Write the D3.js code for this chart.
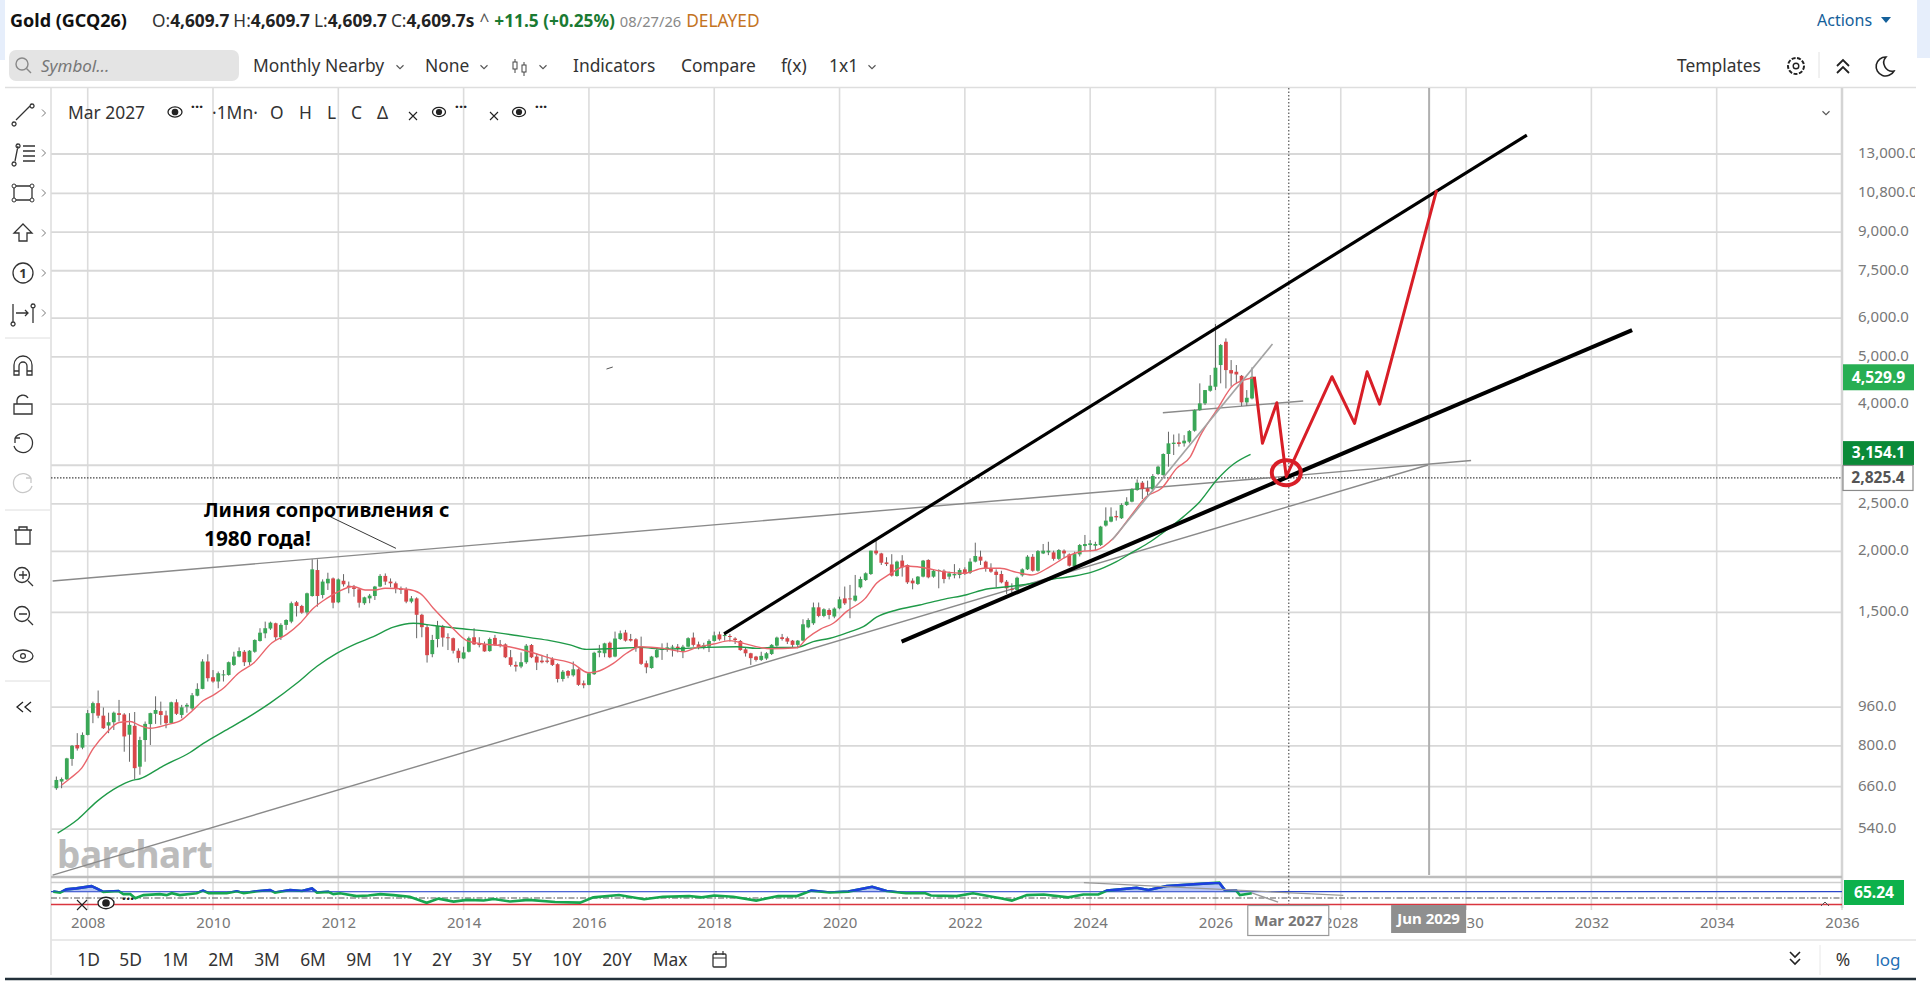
<!DOCTYPE html>
<html lang="en">
<head>
<meta charset="UTF-8">
<title>Gold (GCQ26)</title>
<script src="https://d3js.org/d3.v7.min.js"></script>
<style>
    html,body{margin:0;padding:0;background:#fff;overflow:hidden;}
    svg text{font-family:"Noto Sans","Open Sans",sans-serif;}
    .tb{font-size:17.4px;fill:#333;}
    .ax text{font-size:15px;fill:#777;}
</style>
</head>
<body>
<div id="chart"></div>
<script>
// monthly candles, first one is Jul 2007, last one Aug 2026
var firstCandleYear=2007.5;
var candleOpen=[
655,676,683,752,803,793,842,933,978,922,
880,894,933,927,843,879,725,822,886,930,
942,923,890,982,925,962,954,1013,1046,1190,
1105,1083,1117,1117,1171,1218,1246,1186,1246,1311,
1359,1390,1425,1334,1414,1436,1573,1546,1500,1620,
1831,1628,1720,1760,1573,1741,1701,1688,1672,1566,
1602,1620,1694,1781,1734,1720,1678,1672,1578,1602,
1483,1399,1232,1323,1407,1334,1328,1252,1207,1246,
1334,1296,1292,1250,1330,1290,1290,1214,1171,1162,
1186,1286,1218,1195,1195,1203,1175,1096,1138,1115,
1147,1074,1066,1121,1240,1237,1300,1218,1323,1364,
1323,1321,1276,1180,1154,1214,1256,1260,1270,1276,
1246,1276,1332,1290,1272,1276,1311,1352,1342,1342,
1326,1311,1260,1237,1218,1199,1207,1233,1282,1334,
1328,1313,1287,1313,1398,1425,1536,1475,1517,1471,
1529,1602,1602,1585,1688,1747,1797,2006,1980,1898,
1880,1780,1914,1875,1742,1715,1775,1920,1775,1822,
1825,1775,1786,1789,1837,1808,1905,1950,1905,1846,
1817,1797,1733,1675,1667,1786,1837,1949,1825,1980,
1990,1990,1930,2006,1971,1866,1971,2050,2060,2053,
2060,2258,2300,2362,2337,2488,2527,2669,2763,2691,
2678,2878,2864,3163,3316,3342,3326,3352,3530,3890,
4015,4261,4343,4810,5368,4697,4660,4572,4034,4110];
var candleHigh=[
692,689,756,803,849,852,947,985,1038,958,
935,940,993,933,933,938,835,897,935,1010,
985,944,985,996,970,978,1026,1074,1203,1231,
1143,1135,1143,1190,1246,1272,1256,1256,1321,1392,
1436,1436,1429,1425,1452,1578,1583,1554,1646,1926,
1926,1752,1808,1768,1760,1796,1734,1707,1680,1615,
1636,1699,1796,1802,1760,1734,1694,1688,1620,1610,
1490,1414,1349,1441,1414,1359,1332,1266,1276,1338,
1392,1334,1307,1332,1349,1317,1296,1256,1190,1242,
1292,1292,1236,1227,1233,1214,1180,1143,1143,1190,
1152,1088,1129,1246,1287,1300,1307,1370,1377,1381,
1355,1328,1338,1195,1222,1272,1296,1300,1287,1292,
1287,1334,1364,1307,1300,1321,1370,1370,1364,1355,
1334,1317,1272,1240,1222,1246,1244,1292,1338,1355,
1338,1317,1317,1452,1459,1571,1571,1529,1529,1536,
1615,1694,1707,1789,1775,1811,2006,2102,1986,1945,
1973,1914,1964,1880,1761,1780,1920,1926,1837,1837,
1837,1817,1883,1846,1855,1935,2083,2006,1914,1890,
1837,1825,1747,1720,1775,1846,1964,1974,2012,2070,
2092,2006,2021,2018,1980,1996,2070,2160,2109,2092,
2255,2460,2460,2422,2507,2580,2691,2807,2785,2790,
2878,2994,3173,3513,3467,3484,3457,3541,3902,4412,
4275,4589,5835,5310,5453,4924,4810,4589,4275,4757];
var candleLow=[
650,655,681,728,782,787,840,890,911,866,
849,862,897,778,742,683,698,742,803,887,
883,869,887,925,911,935,947,1010,1044,1083,
1077,1049,1083,1113,1165,1214,1165,1171,1240,1307,
1328,1381,1313,1317,1381,1425,1471,1490,1483,1615,
1541,1602,1667,1529,1566,1694,1641,1615,1534,1554,
1566,1590,1688,1707,1688,1641,1636,1566,1566,1328,
1334,1184,1214,1272,1276,1256,1236,1184,1203,1242,
1286,1272,1246,1246,1280,1272,1209,1162,1135,1153,
1177,1209,1143,1180,1180,1165,1078,1083,1100,1108,
1061,1049,1064,1117,1214,1214,1209,1214,1317,1307,
1307,1246,1171,1126,1150,1209,1199,1246,1218,1242,
1209,1272,1276,1260,1260,1244,1307,1313,1313,1307,
1292,1252,1218,1171,1190,1193,1199,1227,1276,1313,
1292,1272,1266,1309,1392,1414,1466,1466,1452,1459,
1522,1553,1459,1578,1680,1739,1789,1964,1875,1866,
1775,1775,1775,1715,1672,1707,1769,1761,1766,1680,
1720,1752,1761,1761,1789,1797,1898,1875,1817,1808,
1688,1720,1636,1636,1662,1775,1831,1817,1817,1974,
1964,1914,1920,1936,1861,1861,1952,2006,1996,2012,
2050,2247,2293,2311,2329,2476,2519,2660,2559,2607,
2649,2864,2855,2980,3148,3275,3275,3326,3513,3878,
3984,4242,4275,4412,4309,4343,4412,3965,3971,4091];
var candleClose=[
681,684,754,800,790,842,933,978,922,869,
894,935,925,836,883,720,822,887,933,947,
925,890,982,930,959,970,1015,1046,1190,1100,
1083,1126,1120,1186,1218,1250,1186,1252,1317,1363,
1392,1429,1334,1414,1447,1566,1546,1498,1641,1837,
1620,1734,1757,1570,1752,1712,1688,1675,1570,1610,
1623,1694,1781,1734,1720,1680,1667,1578,1602,1483,
1399,1226,1317,1407,1332,1328,1252,1209,1242,1328,
1290,1286,1248,1323,1286,1282,1214,1171,1162,1186,
1282,1214,1184,1186,1188,1171,1096,1134,1113,1147,
1066,1064,1126,1240,1252,1296,1214,1326,1359,1313,
1313,1272,1177,1158,1218,1256,1266,1272,1276,1266,
1276,1328,1287,1272,1285,1311,1346,1321,1348,1336,
1317,1256,1237,1209,1199,1222,1237,1287,1332,1323,
1307,1287,1313,1418,1447,1536,1475,1522,1482,1527,
1595,1565,1597,1623,1755,1803,2006,1980,1895,1883,
1783,1905,1855,1728,1720,1775,1914,1769,1825,1831,
1755,1803,1797,1831,1797,1905,1956,1914,1846,1817,
1789,1728,1680,1667,1766,1837,1950,1825,2002,2006,
2006,1930,2012,1980,1869,1974,2060,2070,2076,2070,
2247,2311,2355,2347,2488,2527,2682,2763,2682,2649,
2851,2980,3163,3326,3337,3316,3368,3524,3890,4015,
4275,4363,4750,5285,4697,4623,4601,4034,4123,4552];

// moving averages [year, price]
var maFast=[[2007.585,665],[2007.718,686],[2007.904,720],[2008.09,790],[2008.303,852],[2008.5,893],[2008.676,897],[2008.835,880],[2008.995,869],[2009.26,883],[2009.5,904],[2009.67,944],[2009.846,990],[2010.006,1016],[2010.165,1049],[2010.405,1126],[2010.644,1180],[2010.937,1298],[2011.176,1352],[2011.389,1425],[2011.602,1529],[2011.815,1602],[2012.0,1654],[2012.24,1694],[2012.427,1667],[2012.586,1667],[2012.746,1680],[2013.09,1672],[2013.305,1641],[2013.517,1529],[2013.81,1399],[2014.05,1313],[2014.316,1292],[2014.66,1280],[2014.95,1256],[2015.22,1227],[2015.38,1209],[2015.75,1177],[2015.99,1129],[2016.12,1134],[2016.39,1180],[2016.6,1237],[2016.82,1276],[2017.19,1266],[2017.51,1246],[2017.72,1272],[2017.99,1292],[2018.25,1313],[2018.47,1296],[2018.73,1272],[2018.89,1264],[2019.32,1270],[2019.48,1328],[2019.69,1385],[2019.9,1425],[2020.11,1505],[2020.41,1602],[2020.59,1720],[2020.78,1789],[2021.07,1866],[2021.34,1851],[2021.66,1817],[2021.98,1803],[2022.3,1846],[2022.56,1846],[2022.83,1811],[2023.07,1789],[2023.36,1861],[2023.63,1952],[2023.84,1996],[2024.1,2012],[2024.37,2126],[2024.64,2355],[2024.9,2590],[2025.14,2691],[2025.38,2956],[2025.6,3125],[2025.75,3432],[2026.02,3890],[2026.29,4378],[2026.61,4535]];
var maSlow=[[2007.52,530],[2007.845,566],[2008.144,615],[2008.489,660],[2008.7,679],[2008.835,685],[2009.208,728],[2009.633,775],[2009.846,809],[2010.165,855],[2010.538,911],[2010.91,978],[2011.336,1074],[2011.655,1162],[2011.974,1236],[2012.294,1296],[2012.56,1338],[2012.879,1399],[2013.198,1425],[2013.517,1410],[2013.89,1392],[2014.42,1370],[2014.847,1345],[2015.06,1332],[2015.38,1313],[2015.7,1287],[2015.96,1260],[2016.44,1266],[2016.82,1272],[2017.19,1262],[2017.56,1266],[2017.88,1272],[2018.36,1276],[2018.68,1266],[2018.89,1272],[2019.32,1272],[2019.58,1307],[2019.85,1328],[2020.17,1370],[2020.38,1402],[2020.59,1466],[2020.91,1517],[2021.28,1553],[2021.66,1595],[2022.03,1630],[2022.35,1675],[2022.56,1686],[2023.09,1720],[2023.47,1760],[2023.73,1778],[2024.05,1817],[2024.42,1905],[2024.69,1996],[2024.96,2092],[2025.22,2211],[2025.49,2355],[2025.75,2527],[2026.02,2798],[2026.29,3018],[2026.56,3158]];

// RSI panel [year, value]
var rsiValues=[[2007.45,70],[2007.56,67],[2007.66,77],[2007.82,80],[2008.06,87],[2008.14,80],[2008.25,69],[2008.49,72],[2008.57,62],[2008.68,62],[2008.76,49],[2008.89,59],[2009.15,62],[2009.26,59],[2009.34,65],[2009.47,59],[2009.74,65],[2009.84,73],[2009.93,65],[2010.22,65],[2010.38,71],[2010.49,65],[2010.7,71],[2010.91,75],[2010.99,67],[2011.23,75],[2011.42,72],[2011.58,80],[2011.66,67],[2011.84,69],[2011.92,62],[2012.03,65],[2012.29,56],[2012.48,58],[2012.67,62],[2012.88,59],[2013.14,54],[2013.41,35],[2013.6,48],[2013.84,38.6],[2014.05,44],[2014.32,42],[2014.48,47],[2014.74,39],[2015.04,44],[2015.46,37.5],[2015.86,35.5],[2016.07,52],[2016.48,59.4],[2016.88,46],[2017.18,54],[2017.6,56],[2017.8,52],[2018.0,58],[2018.3,54],[2018.67,42],[2019.02,56],[2019.32,56],[2019.55,73],[2019.84,67],[2020.14,70],[2020.52,85],[2020.75,72],[2021.06,65],[2021.37,65],[2021.46,58],[2021.87,56],[2022.13,65],[2022.57,49],[2022.75,42],[2022.99,59],[2023.26,61],[2023.65,52],[2023.89,61],[2024.13,61],[2024.27,73],[2024.74,82],[2024.93,75],[2025.22,87.5],[2026.06,98],[2026.15,75],[2026.33,73],[2026.39,59],[2026.58,65]];

// hand drawn lines [year, price]
var upperChannel=[[2018.157,1355],[2030.97,14212]];
var lowerChannel=[[2020.99,1307],[2032.65,5671]];
var resistanceLine=[[2007.44,1739],[2030.08,3067]];
var supportLine=[[2007.44,435],[2029.39,3003]];
var shortFlat=[[2025.16,3842],[2027.4,4059]];
var shortRise=[[2024.35,2109],[2026.91,5310]];
var calloutLine=[[2011.87,2354],[2012.92,2028]];
var strayMark=[[2016.28,4720],[2016.38,4765]];
var forecastPath=[[2026.62,4552],[2026.75,3326],[2026.98,4028],[2027.13,2842],[2027.86,4552],[2028.22,3655],[2028.42,4660],[2028.62,4001],[2029.53,10968]];
var targetPoint=[2027.13,2896];
var rsiLineA=[[2023.9,98],[2028.04,58]];
var rsiLineB=[[2026.58,66],[2027.0,37]];

var priceGrid=[13000,10800,9000,7500,6000,5000,4000,3000,2500,2000,1500,960,800,660,540];
var priceLabels=[13000,10800,9000,7500,6000,5000,4000,2500,2000,1500,960,800,660,540];
var yearTicks=d3.range(2008,2037,2);
var rangeButtons=["1D","5D","1M","2M","3M","6M","9M","1Y","2Y","3Y","5Y","10Y","20Y","Max"];
var rangeCenters=[88.6,130.7,175.4,221,267,313,359,402,442,482,522,567,617,670];
var lastPrice=4529.9, slowPrice=3154.1, crossPrice=2825.4, crossYear=2027.17, lineYear=2029.41, rsiLast=65.24;

var width=1930,height=1008;
var left=51,right=1842,top_=88,bottom=877;
var svg=d3.select("#chart").append("svg").attr("width",width).attr("height",height);

var x=d3.scaleLinear().domain([2008,2036]).range([87.7,1842]);
var y=d3.scaleLog().domain([2000,13000]).range([551.3,154]);
var yRsi=d3.scaleLinear().domain([0,100]).range([914,882]);
var line=d3.line().x(function(d){return x(d[0]);}).y(function(d){return y(d[1]);});
var rsiLine=d3.line().x(function(d){return x(d[0]);}).y(function(d){return yRsi(d[1]);});

svg.append("rect").attr("width",5).attr("height",60).attr("fill","#e6eefb");
svg.append("rect").attr("x",1917).attr("width",13).attr("height",58).attr("fill","#e6eefb");

// grid
svg.append("g").selectAll("line").data(yearTicks).join("line")
    .attr("x1",d=>x(d)).attr("x2",d=>x(d)).attr("y1",top_).attr("y2",910)
    .attr("stroke","#dcdcdc").attr("stroke-width",1.6);
svg.append("g").selectAll("line").data(priceGrid).join("line")
    .attr("x1",left).attr("x2",right).attr("y1",d=>y(d)).attr("y2",d=>y(d))
    .attr("stroke","#d8d8d8").attr("stroke-width",1.8);

// axes
var yAxis=d3.axisRight(y).tickValues(priceLabels).tickFormat(d3.format(",.1f")).tickSize(0).tickPadding(16);
var gy=svg.append("g").attr("class","ax").attr("transform","translate("+right+",0)").call(yAxis);
gy.select(".domain").remove();
gy.selectAll("text").attr("y",-1.2);
var xAxis=d3.axisBottom(x).tickValues(yearTicks).tickFormat(d3.format("d")).tickSize(0).tickPadding(0);
var gx=svg.append("g").attr("class","ax").attr("transform","translate(0,917)").call(xAxis);
gx.select(".domain").remove();
svg.append("rect").attr("x",1915).attr("y",88).attr("width",15).attr("height",500).attr("fill","#fff");

// frame
function hline(x1,x2,yy,col,w){svg.append("line").attr("x1",x1).attr("x2",x2).attr("y1",yy).attr("y2",yy).attr("stroke",col).attr("stroke-width",w);}
function vline(xx,y1,y2,col,w){svg.append("line").attr("x1",xx).attr("x2",xx).attr("y1",y1).attr("y2",y2).attr("stroke",col).attr("stroke-width",w);}
hline(5,1916,87.4,"#dedede",1.5);
vline(left,88,975,"#dcdcdc",1.5);
vline(right,88,908,"#d4d4d4",2.5);
hline(left,right,877,"#bdbdbd",2.5);
hline(left,right,882.5,"#cfcfcf",1.5);
hline(left,1916,940,"#e2e2e2",1.5);
hline(5,1916,979,"#22303a",2.5);
hline(5,50,338,"#dedede",1);
hline(5,50,510,"#dedede",1);
hline(5,50,681,"#dedede",1);

// watermark
svg.append("text").attr("x",57).attr("y",868).text("barchart")
    .style("font-size","37px").style("font-weight",700).attr("fill","#bcbcbc").attr("letter-spacing","-0.5");

// crosshair and time line
vline(x(lineYear),top_,875,"#b0b0b0",2);
svg.append("line").attr("x1",x(crossYear)).attr("x2",x(crossYear)).attr("y1",top_).attr("y2",905)
    .attr("stroke","#555").attr("stroke-width",1.2).attr("stroke-dasharray","1.5 2");
svg.append("line").attr("x1",left).attr("x2",right).attr("y1",y(crossPrice)).attr("y2",y(crossPrice))
    .attr("stroke","#444").attr("stroke-width",1.2).attr("stroke-dasharray","1.5 1.5");

// thin grey trend lines under the candles
[resistanceLine,supportLine,shortFlat].forEach(function(l){
    svg.append("path").attr("d",line(l)).attr("fill","none").attr("stroke","#8a8a8a").attr("stroke-width",1.4);
});

// candles
var candleYears=candleOpen.map(function(d,i){return firstCandleYear+i/12;});
var candles=svg.append("g").selectAll("g").data(candleOpen).join("g");
candles.append("line")
    .attr("x1",(d,i)=>x(candleYears[i])).attr("x2",(d,i)=>x(candleYears[i]))
    .attr("y1",(d,i)=>y(candleHigh[i])).attr("y2",(d,i)=>y(candleLow[i]))
    .attr("stroke","#666").attr("stroke-width",1);
candles.append("rect")
    .attr("x",(d,i)=>x(candleYears[i])-1.9).attr("width",3.8)
    .attr("y",(d,i)=>y(Math.max(candleOpen[i],candleClose[i])))
    .attr("height",(d,i)=>Math.max(1,Math.abs(y(candleOpen[i])-y(candleClose[i]))))
    .attr("fill",(d,i)=>candleClose[i]>=candleOpen[i]?"#3aa757":"#d8474a");

// moving averages
var smooth=d3.line().x(d=>x(d[0])).y(d=>y(d[1])).curve(d3.curveMonotoneX);
svg.append("path").attr("d",smooth(maSlow)).attr("fill","none").attr("stroke","#1f9a48").attr("stroke-width",1.4);
svg.append("path").attr("d",smooth(maFast)).attr("fill","none").attr("stroke","#e9656c").attr("stroke-width",1.4);
svg.append("path").attr("d",line(shortRise)).attr("fill","none").attr("stroke","#a3a3a3").attr("stroke-width",1.6);

// channel, callout and forecast
svg.append("path").attr("d",line(upperChannel)).attr("fill","none").attr("stroke","#000").attr("stroke-width",3.2);
svg.append("path").attr("d",line(lowerChannel)).attr("fill","none").attr("stroke","#000").attr("stroke-width",4);
svg.append("path").attr("d",line(calloutLine)).attr("fill","none").attr("stroke","#222").attr("stroke-width",0.9);
svg.append("path").attr("d",line(strayMark)).attr("fill","none").attr("stroke","#555").attr("stroke-width",1);
svg.append("path").attr("d",line(forecastPath)).attr("fill","none").attr("stroke","#d81e27").attr("stroke-width",3).attr("stroke-linejoin","round");
svg.append("ellipse").attr("cx",x(targetPoint[0])).attr("cy",y(targetPoint[1])).attr("rx",14.5).attr("ry",12.5)
    .attr("fill","none").attr("stroke","#d81e27").attr("stroke-width",4);

var note=svg.append("text").style("font-size","19.9px").style("font-weight",700).attr("fill","#000");
note.append("tspan").attr("x",204).attr("y",517).text("Линия сопротивления с");
note.append("tspan").attr("x",204).attr("y",546).style("font-size","20.8px").text("1980 года!");

// RSI panel
hline(left,right,yRsi(70),"#2b46c9",1.3);
hline(left,right,yRsi(30),"#d9353f",1.5);
svg.append("line").attr("x1",left).attr("x2",right).attr("y1",yRsi(50)).attr("y2",yRsi(50))
    .attr("stroke","#555").attr("stroke-width",1.2).attr("stroke-dasharray","6 2 1.5 2");
svg.append("clipPath").attr("id","above70").append("rect").attr("x",left).attr("y",882).attr("width",right-left).attr("height",yRsi(70)-882);
svg.append("path").attr("clip-path","url(#above70)")
    .attr("d",d3.area().x(d=>x(d[0])).y0(yRsi(70)).y1(d=>yRsi(d[1]))(rsiValues)).attr("fill","#b9c6f5");
svg.append("path").attr("d",rsiLine(rsiValues)).attr("fill","none").attr("stroke","#16a64f").attr("stroke-width",2.6);
svg.append("path").attr("clip-path","url(#above70)").attr("d",rsiLine(rsiValues)).attr("fill","none").attr("stroke","#1e3fe0").attr("stroke-width",2.6);
svg.append("path").attr("d",rsiLine(rsiLineA)).attr("fill","none").attr("stroke","#999").attr("stroke-width",1.3);
svg.append("path").attr("d",rsiLine(rsiLineB)).attr("fill","none").attr("stroke","#999").attr("stroke-width",1.3);

// value badges
function badge(x0,y0,w,h,bg,fg,txt,stroke,size){
    svg.append("rect").attr("x",x0).attr("y",y0).attr("width",w).attr("height",h).attr("fill",bg)
        .attr("stroke",stroke||"none").attr("stroke-width",stroke?1.2:0);
    svg.append("text").attr("x",x0+w/2).attr("y",y0+h/2).attr("dy","0.34em").attr("text-anchor","middle")
        .style("font-size",(size||15.6)+"px").style("font-weight",700).attr("fill",fg).text(txt);
}
var fmt=d3.format(",.1f");
badge(1843,y(lastPrice)-13.5,71,26,"#27ae52","#fff",fmt(lastPrice));
badge(1843,y(slowPrice)-13.5,71,24,"#0b8a38","#fff",fmt(slowPrice));
badge(1843,y(crossPrice)-12.5,70,25,"#fff","#555",fmt(crossPrice),"#8a8a8a");
badge(1844,880,60,25,"#0db14b","#fff",d3.format(".2f")(rsiLast));
badge(x(crossYear)-41,905.5,81,30,"#fff","#777","Mar 2027","#999",15);
badge(x(lineYear)-38,905,75,28,"#8f8f8f","#fff","Jun 2029",null,15);

// header
var head=svg.append("text").attr("x",10).attr("y",27).style("font-size","17.3px");
head.append("tspan").style("font-size","18px").style("font-weight",700).attr("fill","#111").text("Gold (GCQ26)");
head.append("tspan").attr("x",152).attr("fill","#333").text("O:");
head.append("tspan").style("font-weight",700).attr("fill","#222").text("4,609.7");
head.append("tspan").attr("dx",4).attr("fill","#333").text("H:");
head.append("tspan").style("font-weight",700).attr("fill","#222").text("4,609.7");
head.append("tspan").attr("dx",4).attr("fill","#333").text("L:");
head.append("tspan").style("font-weight",700).attr("fill","#222").text("4,609.7");
head.append("tspan").attr("dx",4).attr("fill","#333").text("C:");
head.append("tspan").style("font-weight",700).attr("fill","#222").text("4,609.7s");
head.append("tspan").attr("dx",5).attr("fill","#555").text("^");
head.append("tspan").attr("dx",5).style("font-weight",700).attr("fill","#1a7a32").text("+11.5 (+0.25%)");
head.append("tspan").attr("dx",5).style("font-size","14.7px").attr("fill","#888").text("08/27/26");
head.append("tspan").attr("dx",5).attr("fill","#c4741f").text("DELAYED");

// toolbar row
svg.append("rect").attr("x",9).attr("y",50).attr("width",230).attr("height",31).attr("rx",7).attr("fill","#e4e4e4");
svg.append("circle").attr("cx",22).attr("cy",64).attr("r",6).attr("fill","none").attr("stroke","#888").attr("stroke-width",1.4);
svg.append("line").attr("x1",26.5).attr("y1",68.5).attr("x2",31).attr("y2",73).attr("stroke","#888").attr("stroke-width",1.4);
svg.append("text").attr("x",41).attr("y",72).style("font-size","17px").style("font-style","italic").attr("fill","#777").text("Symbol...");
var tbText=[["Monthly Nearby",253],["None",425],["Indicators",573],["Compare",681],["f(x)",781],["1x1",829],["Templates",1677]];
tbText.forEach(function(t){svg.append("text").attr("class","tb").attr("x",t[1]).attr("y",72).text(t[0]);});
function chevronDown(cx,cy,s,col){svg.append("path").attr("d","M"+(cx-s)+" "+(cy-s/2)+"L"+cx+" "+(cy+s/2)+"L"+(cx+s)+" "+(cy-s/2)).attr("fill","none").attr("stroke",col||"#555").attr("stroke-width",1.1);}
[400,484,543,872].forEach(function(cx){chevronDown(cx,67,3.5);});
chevronDown(1826,113,3.5);
svg.append("text").attr("x",1817).attr("y",26).style("font-size","16px").attr("fill","#14609a").text("Actions");
svg.append("path").attr("d","M1881 17h10l-5 6z").attr("fill","#14609a");
// candle icon
svg.append("path").attr("d","M515 59v14M524 62v14").attr("stroke","#444").attr("stroke-width",1);
svg.append("rect").attr("x",513).attr("y",62).attr("width",4).attr("height",7).attr("fill","#fff").attr("stroke","#444");
svg.append("rect").attr("x",522).attr("y",65).attr("width",4).attr("height",7).attr("fill","#fff").attr("stroke","#444");
// gear, chevrons, moon
svg.append("circle").attr("cx",1796).attr("cy",66).attr("r",8).attr("fill","none").attr("stroke","#222").attr("stroke-width",2).attr("stroke-dasharray","4 1.5");
svg.append("circle").attr("cx",1796).attr("cy",66).attr("r",2.8).attr("fill","none").attr("stroke","#222").attr("stroke-width",1.4);
vline(1819,52,78,"#e2e2e2",1);
svg.append("path").attr("d","M1837 66l6-6 6 6M1837 73l6-6 6 6").attr("fill","none").attr("stroke","#222").attr("stroke-width",1.8);
svg.append("path").attr("d","M1886 57a9.5 9.5 0 1 0 8 14 8.5 8.5 0 0 1 -8 -14z").attr("fill","none").attr("stroke","#222").attr("stroke-width",1.6);

// legend row
function eye(cx,cy,size){
    svg.append("ellipse").attr("cx",cx).attr("cy",cy).attr("rx",size).attr("ry",size*0.72).attr("fill","#fff").attr("stroke","#222").attr("stroke-width",1.3);
    svg.append("circle").attr("cx",cx).attr("cy",cy).attr("r",size*0.48).attr("fill","#222");
}
function dots(cx,cy){svg.append("text").attr("x",cx).attr("y",cy).attr("text-anchor","middle").style("font-size","15px").style("font-weight",700).attr("fill","#222").text("···");}
function cross(cx,cy,s){svg.append("path").attr("d","M"+(cx-s)+" "+(cy-s)+"L"+(cx+s)+" "+(cy+s)+"M"+(cx+s)+" "+(cy-s)+"L"+(cx-s)+" "+(cy+s)).attr("stroke","#222").attr("stroke-width",1.1);}
var legendText=[["Mar 2027",68],["·1Mn·",212],["O",270],["H",299],["L",327],["C",351],["Δ",377]];
legendText.forEach(function(t){svg.append("text").attr("class","tb").attr("x",t[1]).attr("y",119).text(t[0]);});
eye(175,112,7);dots(197,112);cross(413,116,4);eye(439,112,6.5);dots(461,112);cross(494,116,4);eye(519,112,6.5);dots(541,112);
cross(82,905,5);eye(106,903,8);dots(128,904);

// left tool icons
var toolYs=[113,153,193,233,273,313,366,405,444,484,535,576,615,656,707];
function ic(i,d,col){svg.append("path").attr("transform","translate(23,"+toolYs[i]+")").attr("d",d).attr("fill","none").attr("stroke",col||"#333").attr("stroke-width",1.3);}
ic(0,"M-7 7L7 -7M-9 9a2 2 0 1 0 .1 0M9 -9a2 2 0 1 0 .1 0");
ic(1,"M-8 8L-5 -7M-9 9a2 2 0 1 0 .1 0M-5 -9a2 2 0 1 0 .1 0M0 -7H12M0 -2H12M0 3H12M0 8H12");
ic(2,"M-9 -7H9M-9 7H9M-9 -7V7M9 -7V7");
[[-9,-7],[9,-7],[-9,7],[9,7]].forEach(function(p){svg.append("circle").attr("cx",23+p[0]).attr("cy",193+p[1]).attr("r",2).attr("fill","#fff").attr("stroke","#333");});
ic(3,"M0 -9L9 0H4V8H-4V0H-9Z");
svg.append("circle").attr("cx",23).attr("cy",273).attr("r",10).attr("fill","none").attr("stroke","#333").attr("stroke-width",1.3);
svg.append("text").attr("x",23).attr("y",278).attr("text-anchor","middle").style("font-size","13px").style("font-weight",700).attr("fill","#333").text("1");
ic(5,"M-10 -9V9M-7 0H5M2 -3L5 0L2 3M10 -6V10M10 -9a2 2 0 1 0 .1 0M-10 9a2 2 0 1 0 .1 0");
ic(6,"M-9 9V-1a9 9 0 0 1 18 0V9H4V0a4 4 0 0 0 -8 0V9ZM-9 5H-4M4 5H9");
ic(7,"M-9 -1H9V9H-9ZM-6 -1V-5a6 6 0 0 1 11 -2");
ic(8,"M-8 -6A9.5 9.5 0 1 1 -9 2M-8 -6V-1M-8 -6H-3");
ic(9,"M8 -6A9.5 9.5 0 1 0 9 2M8 -6V-1M8 -6H3","#c8c8c8");
ic(10,"M-7 -5H7V9H-7ZM-9 -5H9M-4 -5V-8H4V-5");
ic(11,"M5 5L10 10M-4 -1H4M0 -5V3");
svg.append("circle").attr("cx",22).attr("cy",575).attr("r",7.5).attr("fill","none").attr("stroke","#333").attr("stroke-width",1.3);
ic(12,"M5 5L10 10M-4 -1H4");
svg.append("circle").attr("cx",22).attr("cy",614).attr("r",7.5).attr("fill","none").attr("stroke","#333").attr("stroke-width",1.3);
svg.append("ellipse").attr("cx",23).attr("cy",656).attr("rx",10).attr("ry",6).attr("fill","none").attr("stroke","#333").attr("stroke-width",1.3);
svg.append("circle").attr("cx",23).attr("cy",656).attr("r",2.4).attr("fill","none").attr("stroke","#333").attr("stroke-width",1.2);
ic(14,"M0 -5L-6 0L0 5M8 -5L2 0L8 5","#222");
[113,153,193,233,273,313].forEach(function(cy){svg.append("path").attr("d","M42 "+(cy-3.5)+"l3.5 3.5l-3.5 3.5").attr("fill","none").attr("stroke","#777");});

// range buttons
svg.append("g").selectAll("text").data(rangeButtons).join("text").attr("class","tb")
    .attr("x",(d,i)=>rangeCenters[i]).attr("y",966).attr("text-anchor","middle").text(d=>d);
svg.append("rect").attr("x",713).attr("y",954).attr("width",13).attr("height",13).attr("rx",1).attr("fill","none").attr("stroke","#333").attr("stroke-width",1.3);
svg.append("path").attr("d","M713 958H726M716 951v4M723 951v4").attr("stroke","#333").attr("stroke-width",1.2);
svg.append("path").attr("d","M1790 952l5 5 5 -5M1790 959l5 5 5 -5").attr("fill","none").attr("stroke","#222").attr("stroke-width",1.6);
vline(1820,945,975,"#e8e8e8",1);
svg.append("text").attr("class","tb").attr("x",1843).attr("y",966).attr("text-anchor","middle").text("%");
svg.append("text").attr("x",1888).attr("y",966).attr("text-anchor","middle").style("font-size","17px").attr("fill","#1f6fb5").text("log");
svg.append("path").attr("d","M1821 906l4 -4 4 4").attr("fill","none").attr("stroke","#555");
</script>
</body>
</html>
